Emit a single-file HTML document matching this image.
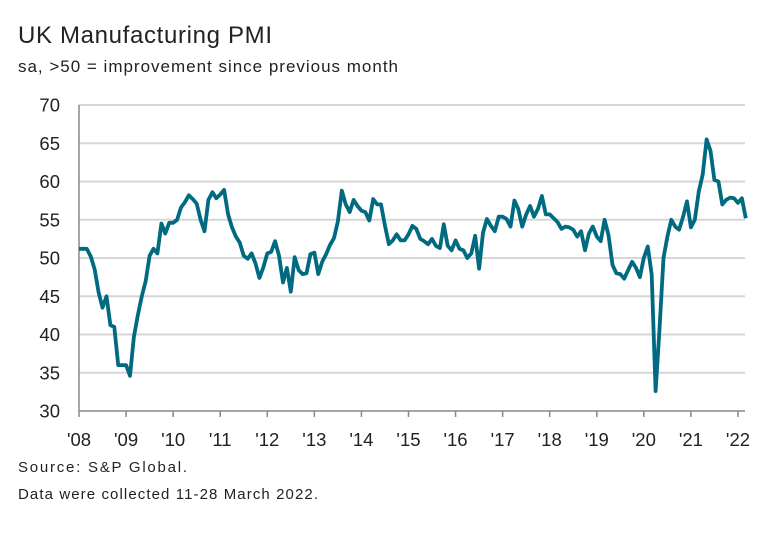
<!DOCTYPE html>
<html><head><meta charset="utf-8"><style>
body{margin:0;background:#fff;width:784px;height:528px;overflow:hidden;font-family:"Liberation Sans",sans-serif;}
</style></head><body>
<svg width="784" height="528" font-family="Liberation Sans, sans-serif">
<text x="18" y="43" font-size="24" fill="#222" textLength="254" lengthAdjust="spacing">UK Manufacturing PMI</text>
<text x="18" y="72" font-size="17" fill="#222" textLength="380" lengthAdjust="spacing">sa, &gt;50 = improvement since previous month</text>
<g id="grid"></g><g id="yax"></g><g id="xax"></g>
<path id="line" fill="none" stroke="#006a80" stroke-width="3.8" stroke-linejoin="round"/>
<text x="18" y="472" font-size="15" fill="#222" textLength="169" lengthAdjust="spacing">Source: S&amp;P Global.</text>
<text x="18" y="499" font-size="15" fill="#222" textLength="300" lengthAdjust="spacing">Data were collected 11-28 March 2022.</text>
</svg>
<script>
const yTicks=[30,35,40,45,50,55,60,65,70];
const xLabels=["'08","'09","'10","'11","'12","'13","'14","'15","'16","'17","'18","'19","'20","'21","'22"];
const startYear=2008;
const pmi=[
51.2,51.2,51.2,50.2,48.5,45.5,43.5,45,41.2,41,36,36,
36,34.6,39.7,42.5,45,47,50.3,51.2,50.6,54.5,53.2,54.6,
54.6,55,56.6,57.3,58.2,57.7,57.1,55,53.5,57.6,58.6,57.8,
58.3,58.9,55.7,54,52.8,52,50.3,49.9,50.6,49.3,47.4,48.8,
50.6,50.8,52.2,50.3,46.8,48.7,45.6,50.1,48.4,47.9,48,50.5,
50.7,47.9,49.5,50.5,51.7,52.6,54.8,58.8,57,56,57.6,56.8,
56.2,56,54.9,57.7,57,57,54.2,51.8,52.3,53.1,52.3,52.3,
53.1,54.2,53.8,52.5,52.2,51.8,52.5,51.6,51.3,54.4,51.6,51,
52.3,51.2,51,50,50.6,52.9,48.6,53.3,55.1,54.2,53.5,55.4,
55.4,55.1,54.1,57.5,56.4,54.1,55.7,56.8,55.4,56.4,58.1,55.7,
55.7,55.2,54.7,53.8,54.1,54,53.7,52.8,53.5,51,53.2,54.1,
52.8,52.2,55,53,49.1,48,47.9,47.3,48.4,49.5,48.7,47.5,
50,51.5,47.8,32.6,40.7,50,52.8,55,54.1,53.7,55.4,57.4,
54,55,58.7,60.9,65.5,64,60.2,60,57,57.6,57.9,57.8,
57.2,57.8,55.2];
const X0=79,X1=745,Y0=411,Y1=105,YR=47.07;
const ys=v=>Y0-(v-30)/(40)*(Y0-Y1);
const xs=m=>X0+m*YR/12;
const NS="http://www.w3.org/2000/svg";
function mk(t,a,p){const e=document.createElementNS(NS,t);for(const k in a)e.setAttribute(k,a[k]);p.appendChild(e);return e;}
const g=document.getElementById('grid'),ya=document.getElementById('yax'),xa=document.getElementById('xax');
yTicks.forEach(v=>{
 if(v>30){const l=mk('line',{x1:X0,x2:X1,y1:ys(v),y2:ys(v),stroke:'#d6d6d6','stroke-width':2},g);
 
 }
 const t=mk('text',{x:60,y:ys(v)+6.5,'font-size':18.5,'text-anchor':'end',fill:'#222'},ya);
 t.textContent=v;
 
 
});
mk('line',{x1:X0,x2:X0,y1:Y1,y2:Y0,stroke:'#888','stroke-width':1.5},ya);
mk('line',{x1:X0,x2:X1,y1:Y0,y2:Y0,stroke:'#888','stroke-width':1.5},xa);
xLabels.forEach((s,i)=>{
 const x=X0+i*YR;
 mk('line',{x1:x,x2:x,y1:Y0,y2:Y0+6,stroke:'#888','stroke-width':1.5},xa);
 const t=mk('text',{x:x,y:446,'font-size':18.5,'text-anchor':'middle',fill:'#222'},xa);
 t.textContent=s;
 
 
});
document.getElementById('line').setAttribute('d',pmi.map((v,i)=>(i?'L':'M')+xs(i).toFixed(1)+','+ys(v).toFixed(1)).join(''));
</script>
</body></html>
